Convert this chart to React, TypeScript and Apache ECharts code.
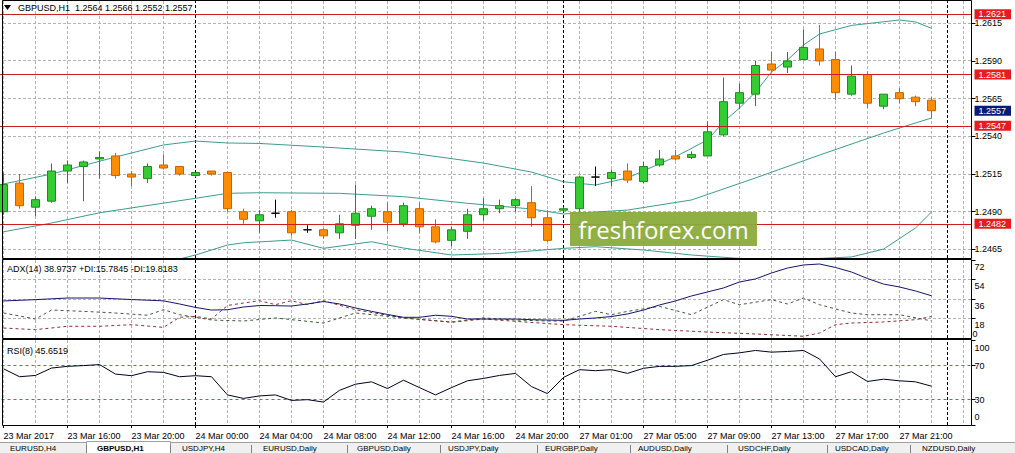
import React, { useEffect, useRef } from "react";
import * as echarts from "echarts";

const _ = null;
const FONT = '"Liberation Sans", Arial, sans-serif';
const symbolName = "GBPUSD,H1";

const categories = [
  "23 Mar 12:00", "23 Mar 13:00", "23 Mar 14:00", "23 Mar 15:00", "23 Mar 16:00", "23 Mar 17:00",
  "23 Mar 18:00", "23 Mar 19:00", "23 Mar 20:00", "23 Mar 21:00", "23 Mar 22:00", "23 Mar 23:00",
  "24 Mar 00:00", "24 Mar 01:00", "24 Mar 02:00", "24 Mar 03:00", "24 Mar 04:00", "24 Mar 05:00",
  "24 Mar 06:00", "24 Mar 07:00", "24 Mar 08:00", "24 Mar 09:00", "24 Mar 10:00", "24 Mar 11:00",
  "24 Mar 12:00", "24 Mar 13:00", "24 Mar 14:00", "24 Mar 15:00", "24 Mar 16:00", "24 Mar 17:00",
  "24 Mar 18:00", "24 Mar 19:00", "24 Mar 20:00", "24 Mar 21:00", "24 Mar 22:00",
  "27 Mar 00:00", "27 Mar 01:00", "27 Mar 02:00", "27 Mar 03:00", "27 Mar 04:00", "27 Mar 05:00",
  "27 Mar 06:00", "27 Mar 07:00", "27 Mar 08:00", "27 Mar 09:00", "27 Mar 10:00", "27 Mar 11:00",
  "27 Mar 12:00", "27 Mar 13:00", "27 Mar 14:00", "27 Mar 15:00", "27 Mar 16:00", "27 Mar 17:00",
  "27 Mar 18:00", "27 Mar 19:00", "27 Mar 20:00", "27 Mar 21:00", "27 Mar 22:00", "27 Mar 23:00",
  "28 Mar 00:00", "28 Mar 01:00",
];
const firstLabel = "23 Mar 2017";
const barCount = 59;

// [open, high, low, close]
const ohlc: [number, number, number, number][] = [
  [1.2490, 1.2516, 1.2488, 1.2508], [1.2509, 1.2515, 1.2492, 1.2494], [1.2493, 1.2500, 1.2487, 1.2498],
  [1.2497, 1.2522, 1.2496, 1.2517], [1.2517, 1.2524, 1.2509, 1.2521], [1.2520, 1.2524, 1.2497, 1.2523],
  [1.2525, 1.2530, 1.2512, 1.2526], [1.2527, 1.2529, 1.2512, 1.2514], [1.2515, 1.2517, 1.2507, 1.2513],
  [1.2512, 1.2522, 1.2509, 1.2520], [1.2521, 1.2528, 1.2518, 1.2519], [1.2520, 1.2520, 1.2514, 1.2515],
  [1.2514, 1.2516, 1.2513, 1.2516], [1.2517, 1.2517, 1.2514, 1.2515], [1.2516, 1.2516, 1.2490, 1.2492],
  [1.2490, 1.2492, 1.2482, 1.2485], [1.2484, 1.2491, 1.2476, 1.2488], [1.2489, 1.2498, 1.2486, 1.2489],
  [1.2490, 1.2491, 1.2474, 1.2476], [1.2478, 1.2481, 1.2476, 1.2478], [1.2478, 1.2479, 1.2472, 1.2474],
  [1.2476, 1.2488, 1.2472, 1.2482], [1.2481, 1.2508, 1.2472, 1.2489], [1.2487, 1.2494, 1.2478, 1.2492],
  [1.2490, 1.2496, 1.2477, 1.2483], [1.2482, 1.2496, 1.2480, 1.2494], [1.2492, 1.2496, 1.2476, 1.2480],
  [1.2480, 1.2485, 1.2469, 1.2470], [1.2471, 1.2480, 1.2467, 1.2478], [1.2477, 1.2492, 1.2472, 1.2488],
  [1.2488, 1.2499, 1.2484, 1.2492], [1.2492, 1.2498, 1.2489, 1.2494], [1.2494, 1.2499, 1.2490, 1.2498],
  [1.2496, 1.2507, 1.2480, 1.2486], [1.2486, 1.2491, 1.2470, 1.2471], [1.2491, 1.2493, 1.2490, 1.2492],
  [1.2492, 1.2514, 1.2490, 1.2513], [1.2513, 1.2520, 1.2507, 1.2513], [1.2512, 1.2518, 1.2507, 1.2516],
  [1.2517, 1.2522, 1.2509, 1.2511], [1.2510, 1.2523, 1.2509, 1.2520], [1.2521, 1.2531, 1.2520, 1.2525],
  [1.2527, 1.2531, 1.2524, 1.2525], [1.2526, 1.2530, 1.2525, 1.2528], [1.2527, 1.2550, 1.2527, 1.2543],
  [1.2541, 1.2579, 1.2540, 1.2563], [1.2562, 1.2575, 1.2558, 1.2569], [1.2568, 1.2590, 1.2560, 1.2587],
  [1.2588, 1.2596, 1.2583, 1.2584], [1.2586, 1.2596, 1.2582, 1.2590], [1.2591, 1.2611, 1.2591, 1.2599],
  [1.2598, 1.2614, 1.2587, 1.2590], [1.2591, 1.2596, 1.2564, 1.2569], [1.2568, 1.2587, 1.2567, 1.2580],
  [1.2581, 1.2583, 1.2559, 1.2562], [1.2560, 1.2568, 1.2558, 1.2568], [1.2569, 1.2572, 1.2562, 1.2565],
  [1.2566, 1.2567, 1.2560, 1.2563], [1.2564, 1.2566, 1.2552, 1.2557],
];

const bbUpper = [1.25084,_,_,1.25150,_,_,_,1.25263,_,_,1.25343,_,1.25369,_,1.25356,_,1.25353,_,_,_,1.25329,_,_,_,_,1.25296,_,_,_,_,1.25223,_,_,1.25163,_,1.25099,_,1.25077,_,1.25124,_,_,1.25265,_,1.25376,1.25495,1.25588,1.25694,1.25827,1.25907,1.26006,1.26079,_,1.26136,_,_,1.26172,1.26159,1.26117];
const bbMiddle = [1.24767,_,_,1.24825,_,_,1.24893,_,_,_,_,_,1.24989,_,1.25022,_,1.25026,_,_,_,_,1.25022,_,_,_,1.25000,_,_,_,1.24956,_,_,_,1.24918,_,1.24885,_,_,_,1.24911,_,_,_,1.24978,_,_,_,1.25124,_,_,_,1.25276,_,_,_,1.25422,_,_,1.25522];
const bbLower = [_,_,_,_,_,_,_,_,_,_,_,1.24586,1.24613,_,1.24679,1.24694,_,_,1.24712,_,1.24657,_,_,1.24701,_,1.24659,_,_,1.24613,_,_,1.24623,_,_,_,1.24657,_,1.24668,_,_,1.24646,_,_,1.24613,_,_,1.24590,_,_,_,1.24585,_,_,1.24600,_,1.24652,_,1.24792,1.24898];

const adx = [34.2,_,35.4,_,36.9,_,36.9,_,35.5,_,34.3,31.4,28.2,25.8,26.1,28.6,30.0,29.8,29.5,31.4,33.7,31.4,27.7,24.6,21.7,19.1,19.1,21.0,20.0,17.5,_,_,17.5,16.9,16.6,16.3,17.5,18.5,19.8,22.2,25.8,30.5,34.2,38.8,42.5,46.2,51.7,54.5,60.0,64.6,67.4,68.3,65.1,60.9,54.9,49.8,47.1,43.4,38.9737];
const plusDI = [23.1,_,17.5,25.8,_,24.6,_,23.1,_,21.0,26.1,21.5,19.1,16.6,_,15.7,_,18.5,_,15.4,13.8,_,23.1,_,_,18.5,_,_,14.8,_,18.5,_,16.6,_,15.7,15.7,20.0,24.6,21.5,24.6,_,29.2,_,21.5,_,35.4,30.7,_,35.4,31.4,36.9,30.7,_,23.1,21.5,_,21.5,_,15.7845];
const minusDI = [9.2,_,7.7,_,10.8,_,10.8,_,12.3,_,9.8,19.1,20.0,17.5,30.0,32.3,34.4,30.8,34.4,30.8,34.4,_,26.1,_,_,18.5,_,_,14.5,_,17.5,_,15.4,_,_,12.3,_,_,10.8,_,_,7.7,_,_,5.5,_,_,3.7,_,_,1.6,4.6,12.3,13.8,_,14.8,_,16.9,19.8183];
const rsi = [66.1,56.8,58.3,67.0,69.0,69.9,71.1,59.9,58.0,62.7,61.9,56.8,58.0,56.8,35.4,31.3,34.2,35.4,28.9,29.8,27.0,40.8,48.0,50.8,42.9,52.7,44.0,35.4,44.0,52.0,54.8,58.3,60.7,45.2,36.9,56.0,65.1,63.9,65.1,60.7,66.7,69.0,69.0,69.9,76.2,83.0,84.9,87.7,85.7,86.5,87.7,77.7,56.8,62.7,51.2,53.9,52.0,50.8,45.6519];

const priceTicks = [1.2465, 1.2490, 1.2515, 1.2540, 1.2565, 1.2590, 1.2615];
const adxTicks = [18, 36, 54, 72];
const adxGridTicks = [18, 36, 54];
const adxMinTick = [0];
const rsiTicks = [0, 30, 70, 100];
const rsiLevels = [30, 70];
const levels = [1.2621, 1.2581, 1.2547, 1.2482];
const bid = 1.2557;
const daySeparators = ["24 Mar 00:00", "27 Mar 00:00", "28 Mar 00:00"];
const tabs = ["EURUSD,H4", "GBPUSD,H1", "USDJPY,H4", "EURUSD,Daily", "GBPUSD,Daily", "USDJPY,Daily", "EURGBP,Daily", "AUDUSD,Daily", "USDCHF,Daily", "USDCAD,Daily", "NZDUSD,Daily"];
const tabX = [10, 97, 182, 263, 357, 448, 545, 638, 738, 835, 922];
const tabSep = [86, 170, 251, 347, 440, 537, 630, 727, 827, 910];

const GRID_LEFT = -4.5;
const GRID_W = 976;
const GRID_COLOR = "#b4b4b4";
const GRID_DASH = [3, 2];
const PANELS: [number, number][] = [[1, 258], [260, 338], [340, 425]];
const gridCats = categories.filter((c, i) => i % 2 === 0 && !daySeparators.includes(c));

function baseGraphics(): any[] {
  const last = ohlc[ohlc.length - 1];
  const header = `${symbolName}  ${last.map((v) => v.toFixed(4)).join(" ")}`;
  const adxText = `ADX(14) ${adx[adx.length - 1]!.toFixed(4)} +DI:${plusDI[plusDI.length - 1]!.toFixed(4)} -DI:${minusDI[minusDI.length - 1]!.toFixed(4)}`;
  const rsiText = `RSI(8) ${rsi[rsi.length - 1].toFixed(4)}`;

  const frame = (y1: number, y2: number) => ({
    type: "rect",
    z: 100,
    silent: true,
    shape: { x: 2.5, y: y1 + 0.5, width: 969, height: y2 - y1 },
    style: { fill: "none", stroke: "#000", lineWidth: 1 },
  });

  return [
    frame(0, 258),
    frame(259, 338),
    frame(339, 425),
    { type: "polygon", z: 100, shape: { points: [[4, 5], [11, 5], [7.5, 10]] }, style: { fill: "#000" } },
    { type: "text", z: 100, x: 18, y: 8, style: { text: header, fill: "#000", font: `9px ${FONT}`, verticalAlign: "middle" } },
    { type: "text", z: 100, x: 7, y: 269, style: { text: adxText, fill: "#000", font: `9px ${FONT}`, verticalAlign: "middle" } },
    { type: "text", z: 100, x: 7, y: 351, style: { text: rsiText, fill: "#000", font: `9px ${FONT}`, verticalAlign: "middle" } },
    {
      type: "group", z: 90, x: 570, y: 212,
      children: [
        { type: "rect", z: 90, shape: { x: 0, y: 0, width: 187, height: 34 }, style: { fill: "#8aab3b", opacity: 0.95 } },
        { type: "text", z: 91, x: 93.5, y: 17, style: { text: "freshforex.com", fill: "#ffffff", font: `24px "Open Sans", ${FONT}`, align: "center", verticalAlign: "middle" } },
      ],
    },
    { type: "rect", z: 100, shape: { x: 0, y: 442, width: 1015, height: 11 }, style: { fill: "#f0f0f0" } },
    { type: "line", z: 101, shape: { x1: 0, y1: 442.5, x2: 1015, y2: 442.5 }, style: { stroke: "#a0a0a0", lineWidth: 1 } },
    { type: "rect", z: 101, shape: { x: 86.5, y: 441.5, width: 84, height: 12 }, style: { fill: "#ffffff", stroke: "#a0a0a0", lineWidth: 1 } },
    ...tabSep.map((x) => ({
      type: "line", z: 102, shape: { x1: x + 0.5, y1: 445, x2: x + 0.5, y2: 453 }, style: { stroke: "#808080", lineWidth: 1 },
    })),
    ...tabs.map((t, i) => ({
      type: "text", z: 103, x: tabX[i], y: 444,
      style: { text: t, fill: "#000", font: `${i === 1 ? "bold " : ""}8px ${FONT}`, verticalAlign: "top" },
    })),
  ];
}

function gridLineGraphics(chart: any): any[] {
  const out: any[] = [];
  const crisp = (v: number) => Math.round(v - 0.5) + 0.5;
  const gl = (x1: number, y1: number, x2: number, y2: number) => ({
    type: "line", z: 0, silent: true,
    shape: { x1, y1, x2, y2 },
    style: { stroke: GRID_COLOR, lineWidth: 1, lineDash: GRID_DASH },
  });
  gridCats.forEach((c) => {
    const px = chart.convertToPixel({ xAxisIndex: 0 }, c);
    if (typeof px !== "number" || !isFinite(px)) return;
    const x = crisp(px);
    PANELS.forEach(([y1, y2]) => out.push(gl(x, y1, x, y2)));
  });
  priceTicks.forEach((v) => {
    const py = chart.convertToPixel({ yAxisIndex: 0 }, v);
    if (typeof py === "number" && isFinite(py)) out.push(gl(3, crisp(py), 972, crisp(py)));
  });
  adxGridTicks.forEach((v) => {
    const py = chart.convertToPixel({ yAxisIndex: 1 }, v);
    if (typeof py === "number" && isFinite(py)) out.push(gl(3, crisp(py), 972, crisp(py)));
  });
  return out;
}

function buildOption() {
  const sepLines = daySeparators.map((c) => ({ xAxis: c, lineStyle: { color: "#000000", type: [3, 2], width: 1 } }));
  const sepMark = (extra: any[] = []) => ({
    silent: true,
    symbol: ["none", "none"],
    precision: 4,
    label: { show: false },
    z: 1,
    data: [...sepLines, ...extra],
  });

  const xAxes = [0, 1, 2].map((g) => ({
    type: "category",
    gridIndex: g,
    data: categories,
    boundaryGap: true,
    axisLine: { show: false },
    axisTick: {
      show: g === 2,
      alignWithLabel: true,
      length: 3,
      interval: (i: number) => i % 4 === 0 && i < barCount,
      lineStyle: { color: "#000" },
    },
    axisLabel: {
      show: g === 2,
      interval: (i: number) => i % 4 === 0 && i < barCount,
      align: "left",
      margin: 6,
      fontSize: 9,
      fontFamily: FONT,
      color: "#000",
      formatter: (v: string, i: number) => (i === 0 ? firstLabel : v),
    },
    splitLine: { show: false },
  }));

  const yLabelBase = { margin: 3, fontSize: 9, fontFamily: FONT, color: "#000", showMinLabel: true, showMaxLabel: true, hideOverlap: false };

  return {
    animation: false,
    backgroundColor: "#ffffff",
    textStyle: { fontFamily: FONT, fontSize: 9, color: "#000" },
    grid: [
      { left: GRID_LEFT, width: GRID_W, top: PANELS[0][0], height: PANELS[0][1] - PANELS[0][0], outerBoundsMode: "none" },
      { left: GRID_LEFT, width: GRID_W, top: PANELS[1][0], height: PANELS[1][1] - PANELS[1][0], outerBoundsMode: "none" },
      { left: GRID_LEFT, width: GRID_W, top: PANELS[2][0], height: PANELS[2][1] - PANELS[2][0], outerBoundsMode: "none" },
    ],
    xAxis: xAxes,
    yAxis: [
      {
        type: "value", gridIndex: 0, position: "right", scale: true,
        min: 1.24593, max: 1.26298,
        axisLine: { show: false },
        axisTick: { show: true, length: 4, customValues: priceTicks, lineStyle: { color: "#000" } },
        axisLabel: { ...yLabelBase, customValues: priceTicks, formatter: (v: number) => v.toFixed(4) },
        splitLine: { show: false },
      },
      {
        type: "value", gridIndex: 1, position: "right",
        min: 0, max: 72,
        axisLine: { show: false },
        axisTick: { show: true, length: 4, customValues: adxTicks, lineStyle: { color: "#000" } },
        axisLabel: { ...yLabelBase, customValues: adxTicks, lineHeight: 13, verticalAlign: "top" },
        splitLine: { show: false },
      },
      {
        type: "value", gridIndex: 2, position: "right",
        min: 0, max: 100,
        axisLine: { show: false },
        axisTick: { show: true, length: 4, customValues: rsiTicks, lineStyle: { color: "#000" } },
        axisLabel: {
          ...yLabelBase, customValues: rsiTicks, lineHeight: 16,
          verticalAlignMinLabel: "bottom", verticalAlignMaxLabel: "top",
        },
        splitLine: { show: false },
      },
      {
        type: "value", gridIndex: 1, position: "right", offset: 0,
        min: 0, max: 72,
        axisLine: { show: false },
        axisTick: { show: false, customValues: adxMinTick },
        axisLabel: { ...yLabelBase, customValues: adxMinTick, lineHeight: 8, margin: 1, verticalAlign: "bottom" },
        splitLine: { show: false },
      },
    ],
    series: [
      {
        name: "BB lower", type: "line", xAxisIndex: 0, yAxisIndex: 0, data: bbLower, connectNulls: true,
        symbol: "none", lineStyle: { color: "#3c9c8c", width: 1 }, z: 2,
        markLine: sepMark(),
      },
      {
        name: "BB middle", type: "line", xAxisIndex: 0, yAxisIndex: 0, data: bbMiddle, connectNulls: true,
        symbol: "none", lineStyle: { color: "#3c9c8c", width: 1 }, z: 2,
      },
      {
        name: "BB upper", type: "line", xAxisIndex: 0, yAxisIndex: 0, data: bbUpper, connectNulls: true,
        symbol: "none", lineStyle: { color: "#3c9c8c", width: 1 }, z: 2,
      },
      {
        name: symbolName, type: "candlestick", xAxisIndex: 0, yAxisIndex: 0, z: 3,
        barWidth: 9,
        data: ohlc.map(([o, h, l, c]) => [o, c, l, h]),
        itemStyle: {
          color: "#32cd32", color0: "#ff8c00",
          borderColor: "#1f8a1f", borderColor0: "#c86400",
          borderColorDoji: "#000000", borderWidth: 1,
        },
        markLine: {
          silent: true,
          symbol: ["none", "none"],
          precision: 4,
          z: 5,
          label: {
            show: true, position: "end", distance: 3,
            formatter: (p: any) => Number(p.value).toFixed(4),
            color: "#ffffff", fontSize: 9, fontFamily: FONT,
            padding: [1, 5, 0, 4], lineHeight: 9,
          },
          data: [
            ...levels.map((v) => ({
              yAxis: v,
              lineStyle: { color: "#c82020", width: 1, type: "solid" },
              label: { backgroundColor: "#e81c1c" },
            })),
            { yAxis: bid, lineStyle: { color: "rgba(0,0,0,0)", width: 1 }, label: { backgroundColor: "#0a1a78", color: "#ffffff" } },
          ],
        },
      },
      {
        name: "ADX", type: "line", xAxisIndex: 1, yAxisIndex: 1, data: adx, connectNulls: true,
        symbol: "none", lineStyle: { color: "#14146e", width: 1 }, z: 3,
        markLine: sepMark(),
      },
      {
        name: "+DI", type: "line", xAxisIndex: 1, yAxisIndex: 1, data: plusDI, connectNulls: true,
        symbol: "none", lineStyle: { color: "#3c5c3c", width: 1, type: [3, 3] }, z: 2,
      },
      {
        name: "-DI", type: "line", xAxisIndex: 1, yAxisIndex: 1, data: minusDI, connectNulls: true,
        symbol: "none", lineStyle: { color: "#8c3030", width: 1, type: [3, 3] }, z: 2,
      },
      {
        name: "RSI", type: "line", xAxisIndex: 2, yAxisIndex: 2, data: rsi,
        symbol: "none", lineStyle: { color: "#000020", width: 1 }, z: 3,
        markLine: sepMark(rsiLevels.map((v) => ({ yAxis: v, lineStyle: { color: "#b85050", type: [3, 3], width: 1 } }))),
      },
    ],
    graphic: baseGraphics(),
  };
}

export default function App() {
  const ref = useRef<HTMLDivElement>(null);
  useEffect(() => {
    document.body.style.margin = "0";
    const chart = echarts.init(ref.current!, undefined, { renderer: "svg" });
    chart.setOption(buildOption() as any);
    try {
      const lines = gridLineGraphics(chart);
      chart.setOption({ graphic: [...baseGraphics(), ...lines] } as any);
    } catch (e) {
      // keep the chart without grid lines if conversion fails
    }
    return () => chart.dispose();
  }, []);
  return <div ref={ref} style={{ width: 1015, height: 453 }} />;
}
